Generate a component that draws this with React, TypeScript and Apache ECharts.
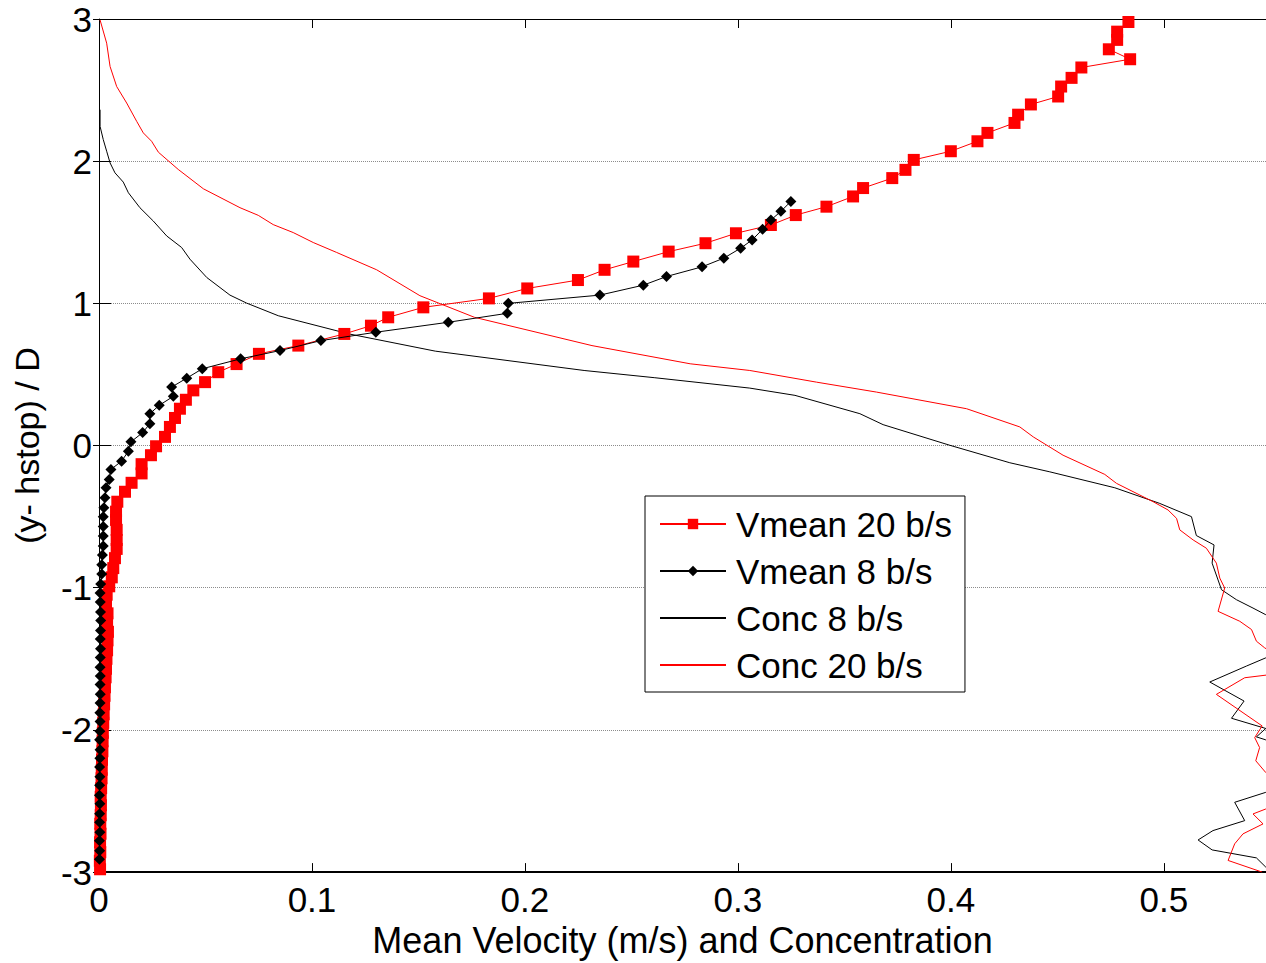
import React, { useEffect, useRef } from "react";
import * as echarts from "echarts";

// ---- Data ----
// Vmean 20 b/s : red squares
const vmean20Y = [
  -2.98, -2.92, -2.86, -2.79, -2.73, -2.66, -2.6, -2.53, -2.47, -2.41, -2.34, -2.28, -2.21, -2.15, -2.08,
  -2.02, -1.95, -1.89, -1.82, -1.76, -1.7, -1.63, -1.57, -1.5, -1.44, -1.37, -1.31, -1.24, -1.18, -1.11,
  -1.049, -0.99, -0.927, -0.862, -0.792, -0.727, -0.664, -0.593, -0.523, -0.465, -0.395, -0.325, -0.262,
  -0.196, -0.131, -0.068, -0.005, 0.061, 0.131, 0.194, 0.259, 0.322, 0.388, 0.446, 0.516, 0.573, 0.645,
  0.703, 0.785, 0.843, 0.902, 0.972, 1.035, 1.105, 1.164, 1.236, 1.294, 1.364, 1.423, 1.493, 1.551, 1.621,
  1.68, 1.752, 1.811, 1.881, 1.939, 2.009, 2.07, 2.14, 2.199, 2.269, 2.327, 2.399, 2.455, 2.525, 2.586,
  2.659, 2.717, 2.787, 2.853, 2.911, 2.979,
];
const vmean20X = [
  0.0005, 0.0004, 0.0006, 0.0005, 0.0007, 0.0006, 0.0008, 0.0009, 0.0008, 0.001, 0.0012, 0.0013, 0.0014,
  0.0016, 0.0017, 0.0018, 0.002, 0.0022, 0.0024, 0.0026, 0.0028, 0.0031, 0.0033, 0.0035, 0.0038, 0.004,
  0.0042, 0.0038, 0.004, 0.0033, 0.0036, 0.0048, 0.006, 0.0067, 0.0075, 0.0083, 0.0083, 0.0083, 0.008,
  0.008, 0.0086, 0.0122, 0.0153, 0.02, 0.02, 0.0244, 0.0268, 0.031, 0.0333, 0.0357, 0.038, 0.0408, 0.0443,
  0.0498, 0.056, 0.0646, 0.0751, 0.0936, 0.1152, 0.1277, 0.1358, 0.1523, 0.1831, 0.2011, 0.2249, 0.2374,
  0.2509, 0.2675, 0.2848, 0.2991, 0.3155, 0.3272, 0.3416, 0.3541, 0.3588, 0.3725, 0.3787, 0.3826, 0.4,
  0.4125, 0.4172, 0.4299, 0.4316, 0.4376, 0.4504, 0.4518, 0.4567, 0.4613, 0.4842, 0.4742, 0.4781, 0.4781,
  0.4834,
];

// Vmean 8 b/s : black diamonds
const vmean8Y = [
  -2.91, -2.85, -2.78, -2.72, -2.65, -2.59, -2.52, -2.46, -2.39, -2.33, -2.26, -2.2, -2.14, -2.07, -2.01,
  -1.94, -1.88, -1.81, -1.75, -1.68, -1.62, -1.56, -1.49, -1.43, -1.36, -1.3, -1.23, -1.17, -1.1, -1.037,
  -0.974, -0.904, -0.839, -0.769, -0.706, -0.636, -0.57, -0.5, -0.437, -0.367, -0.297, -0.238, -0.168,
  -0.11, -0.04, 0.026, 0.091, 0.154, 0.224, 0.283, 0.346, 0.411, 0.474, 0.54, 0.61, 0.668, 0.738, 0.797,
  0.867, 0.93, 1.0, 1.058, 1.128, 1.189, 1.257, 1.318, 1.388, 1.446, 1.521, 1.586, 1.647, 1.717,
];
const vmean8X = [
  0.0002, 0.0003, 0.0002, 0.0004, 0.0003, 0.0003, 0.0004, 0.0002, 0.0003, 0.0004, 0.0003, 0.0004, 0.0005,
  0.0003, 0.0004, 0.0005, 0.0004, 0.0005, 0.0006, 0.0005, 0.0006, 0.0005, 0.0006, 0.0007, 0.0006, 0.0007,
  0.0008, 0.0007, 0.0006, 0.0005, 0.0008, 0.0013, 0.0013, 0.0016, 0.002, 0.002, 0.002, 0.002, 0.0023,
  0.0028, 0.0033, 0.0048, 0.0056, 0.0106, 0.0138, 0.015, 0.0205, 0.0239, 0.0239, 0.0283, 0.0349, 0.0341,
  0.0412, 0.0485, 0.0665, 0.085, 0.1042, 0.13, 0.164, 0.1917, 0.1922, 0.2352, 0.2556, 0.2665, 0.2832,
  0.2934, 0.3013, 0.3067, 0.3116, 0.3155, 0.3202, 0.3249,
];

// Conc 8 b/s : thin black line (points past the right edge are clipped)
const conc8Y = [
  2.362, 2.245, 2.152, 2.07, 1.988, 1.918, 1.853, 1.778, 1.673, 1.579, 1.474, 1.393, 1.311, 1.182, 1.058,
  1.002, 0.913, 0.785, 0.664, 0.528, 0.477, 0.404, 0.353, 0.224, 0.147, 0.002, -0.121, -0.185, -0.297,
  -0.407, -0.5, -0.633, -0.699, -0.827, -1.014, -1.084, -1.143, -1.19, -1.3, -1.45, -1.493, -1.551, -1.663,
  -1.797, -1.918, -1.99, -2.049, -2.07, -2.2, -2.4, -2.439, -2.509, -2.638, -2.708, -2.774, -2.844, -2.9,
  -2.965, -3.0,
];
const conc8X = [
  0.0005, 0.0005, 0.002, 0.0036, 0.0052, 0.0075, 0.0114, 0.0138, 0.0192, 0.0255, 0.0318, 0.0388, 0.0427,
  0.0506, 0.0615, 0.0693, 0.0842, 0.1174, 0.1579, 0.2278, 0.261, 0.3056, 0.3268, 0.3573, 0.3682, 0.3995,
  0.4277, 0.4465, 0.477, 0.4981, 0.513, 0.5153, 0.5236, 0.5227, 0.5271, 0.5341, 0.5419, 0.5479, 0.556,
  0.556, 0.5479, 0.5388, 0.5216, 0.5377, 0.5318, 0.5479, 0.5435, 0.5479, 0.556, 0.556, 0.5479, 0.5333,
  0.538, 0.5231, 0.5161, 0.5227, 0.5435, 0.5479, 0.552,
];

// Conc 20 b/s : thin red line
const conc20Y = [
  2.993, 2.83, 2.666, 2.525, 2.409, 2.28, 2.199, 2.14, 2.063, 1.942, 1.806, 1.673, 1.619, 1.554, 1.498,
  1.428, 1.358, 1.236, 1.054, 0.902, 0.703, 0.575, 0.528, 0.446, 0.376, 0.259, 0.131, 0.061, -0.068,
  -0.203, -0.266, -0.395, -0.453, -0.512, -0.593, -0.664, -0.722, -0.827, -0.932, -1.002, -1.166, -1.236,
  -1.294, -1.376, -1.423, -1.5, -1.6, -1.633, -1.75, -1.972, -2.054, -2.124, -2.217, -2.3, -2.4, -2.5,
  -2.556, -2.591, -2.661, -2.731, -2.801, -2.918, -3.0,
];
const conc20X = [
  0.0005, 0.0036, 0.0052, 0.0083, 0.013, 0.0177, 0.0208, 0.0247, 0.0279, 0.0372, 0.049, 0.0662, 0.0748,
  0.0818, 0.0912, 0.1006, 0.1116, 0.1304, 0.1507, 0.1763, 0.2315, 0.2776, 0.3056, 0.3369, 0.3651, 0.4074,
  0.4324, 0.4387, 0.4527, 0.4723, 0.4778, 0.495, 0.502, 0.506, 0.5075, 0.5138, 0.52, 0.5247, 0.5263,
  0.5286, 0.5255, 0.5357, 0.5412, 0.5435, 0.5474, 0.556, 0.556, 0.538, 0.5247, 0.5462, 0.5427, 0.545,
  0.5432, 0.5479, 0.556, 0.556, 0.5479, 0.5419, 0.5466, 0.5372, 0.5333, 0.5302, 0.5462,
];

const seriesNames = ["Vmean 20 b/s", "Vmean 8 b/s", "Conc 8 b/s", "Conc 20 b/s"];
const xTitle = "Mean Velocity (m/s) and Concentration";
const yTitle = "(y- hstop) / D";

const pair = (xs: number[], ys: number[]) => xs.map((x, i) => [x, ys[i]]);

const FONT = "'Liberation Sans', Arial, Helvetica, sans-serif";

export default function App() {
  const ref = useRef<HTMLDivElement>(null);
  useEffect(() => {
    if (!ref.current) return;
    const chart = echarts.init(ref.current, undefined, { renderer: "svg" });
    const axisLabelStyle = { color: "#000", fontSize: 35, fontFamily: FONT };
    chart.setOption({
      animation: false,
      backgroundColor: "#fff",
      grid: { left: 99, top: 19, right: 0, bottom: 88, containLabel: false },
      legend: {
        data: [
          { name: seriesNames[0] },
          { name: seriesNames[1] },
          { name: seriesNames[2], itemStyle: { opacity: 0 } },
          { name: seriesNames[3], itemStyle: { opacity: 0 } },
        ],
        orient: "vertical",
        left: 645,
        top: 496,
        padding: [10, 13, 9, 14],
        itemWidth: 66,
        itemHeight: 13,
        itemGap: 11,
        backgroundColor: "#fff",
        borderColor: "#000",
        borderWidth: 1,
        textStyle: {
          color: "#000",
          fontSize: 35,
          fontFamily: FONT,
          lineHeight: 36,
          padding: [0, 0, 0, 5],
        },
      },
      xAxis: [
        {
          type: "value",
          position: "bottom",
          min: 0,
          max: 0.548,
          interval: 0.1,
          axisLine: { show: true, onZero: false, lineStyle: { color: "#000", width: 2 } },
          axisTick: { show: true, inside: true, length: 9, lineStyle: { color: "#000" } },
          axisLabel: { ...axisLabelStyle, margin: 10, showMaxLabel: false },
          splitLine: { show: false },
          name: xTitle,
          nameLocation: "middle",
          nameGap: 47,
          nameTextStyle: { color: "#000", fontSize: 36, fontFamily: FONT },
        },
        {
          type: "value",
          position: "top",
          min: 0,
          max: 0.548,
          interval: 0.1,
          axisLine: { show: true, onZero: false, lineStyle: { color: "#000", width: 1 } },
          axisTick: { show: true, inside: true, length: 9, lineStyle: { color: "#000" } },
          axisLabel: { show: false },
          splitLine: { show: false },
        },
      ],
      yAxis: [
        {
          type: "value",
          position: "left",
          min: -3,
          max: 3,
          interval: 1,
          axisLine: { show: true, onZero: false, lineStyle: { color: "#000", width: 1 } },
          axisTick: { show: true, inside: true, length: 12, lineStyle: { color: "#000" } },
          axisLabel: { ...axisLabelStyle, margin: 7 },
          splitLine: { show: true, lineStyle: { color: "#8c8c8c", width: 1, type: [1, 1] } },
          name: yTitle,
          nameLocation: "middle",
          nameGap: 55,
          nameTextStyle: { color: "#000", fontSize: 34, fontFamily: FONT },
        },
        {
          type: "value",
          position: "right",
          min: -3,
          max: 3,
          interval: 1,
          axisLine: { show: false },
          axisTick: { show: true, inside: true, length: 6, lineStyle: { color: "#000" } },
          axisLabel: { show: false },
          splitLine: { show: false },
        },
      ],
      series: [
        {
          name: seriesNames[0],
          type: "line",
          data: pair(vmean20X, vmean20Y),
          symbol: "rect",
          symbolSize: 12,
          showAllSymbol: true,
          color: "#ff0000",
          itemStyle: { color: "#ff0000" },
          lineStyle: { color: "#ff0000", width: 1 },
          z: 4,
        },
        {
          name: seriesNames[1],
          type: "line",
          data: pair(vmean8X, vmean8Y),
          symbol: "diamond",
          symbolSize: 11,
          showAllSymbol: true,
          color: "#000",
          itemStyle: { color: "#000" },
          lineStyle: { color: "#000", width: 1 },
          z: 5,
        },
        {
          name: seriesNames[2],
          type: "line",
          data: pair(conc8X, conc8Y),
          symbol: "none",
          color: "#000",
          lineStyle: { color: "#000", width: 1 },
          clip: true,
          z: 3,
        },
        {
          name: seriesNames[3],
          type: "line",
          data: pair(conc20X, conc20Y),
          symbol: "none",
          color: "#ff0000",
          lineStyle: { color: "#ff0000", width: 1 },
          clip: true,
          z: 3,
        },
      ],
    });
    return () => chart.dispose();
  }, []);
  return (
    <div
      ref={ref}
      style={{ position: "fixed", left: 0, top: 0, width: 1266, height: 963, background: "#fff" }}
    />
  );
}
